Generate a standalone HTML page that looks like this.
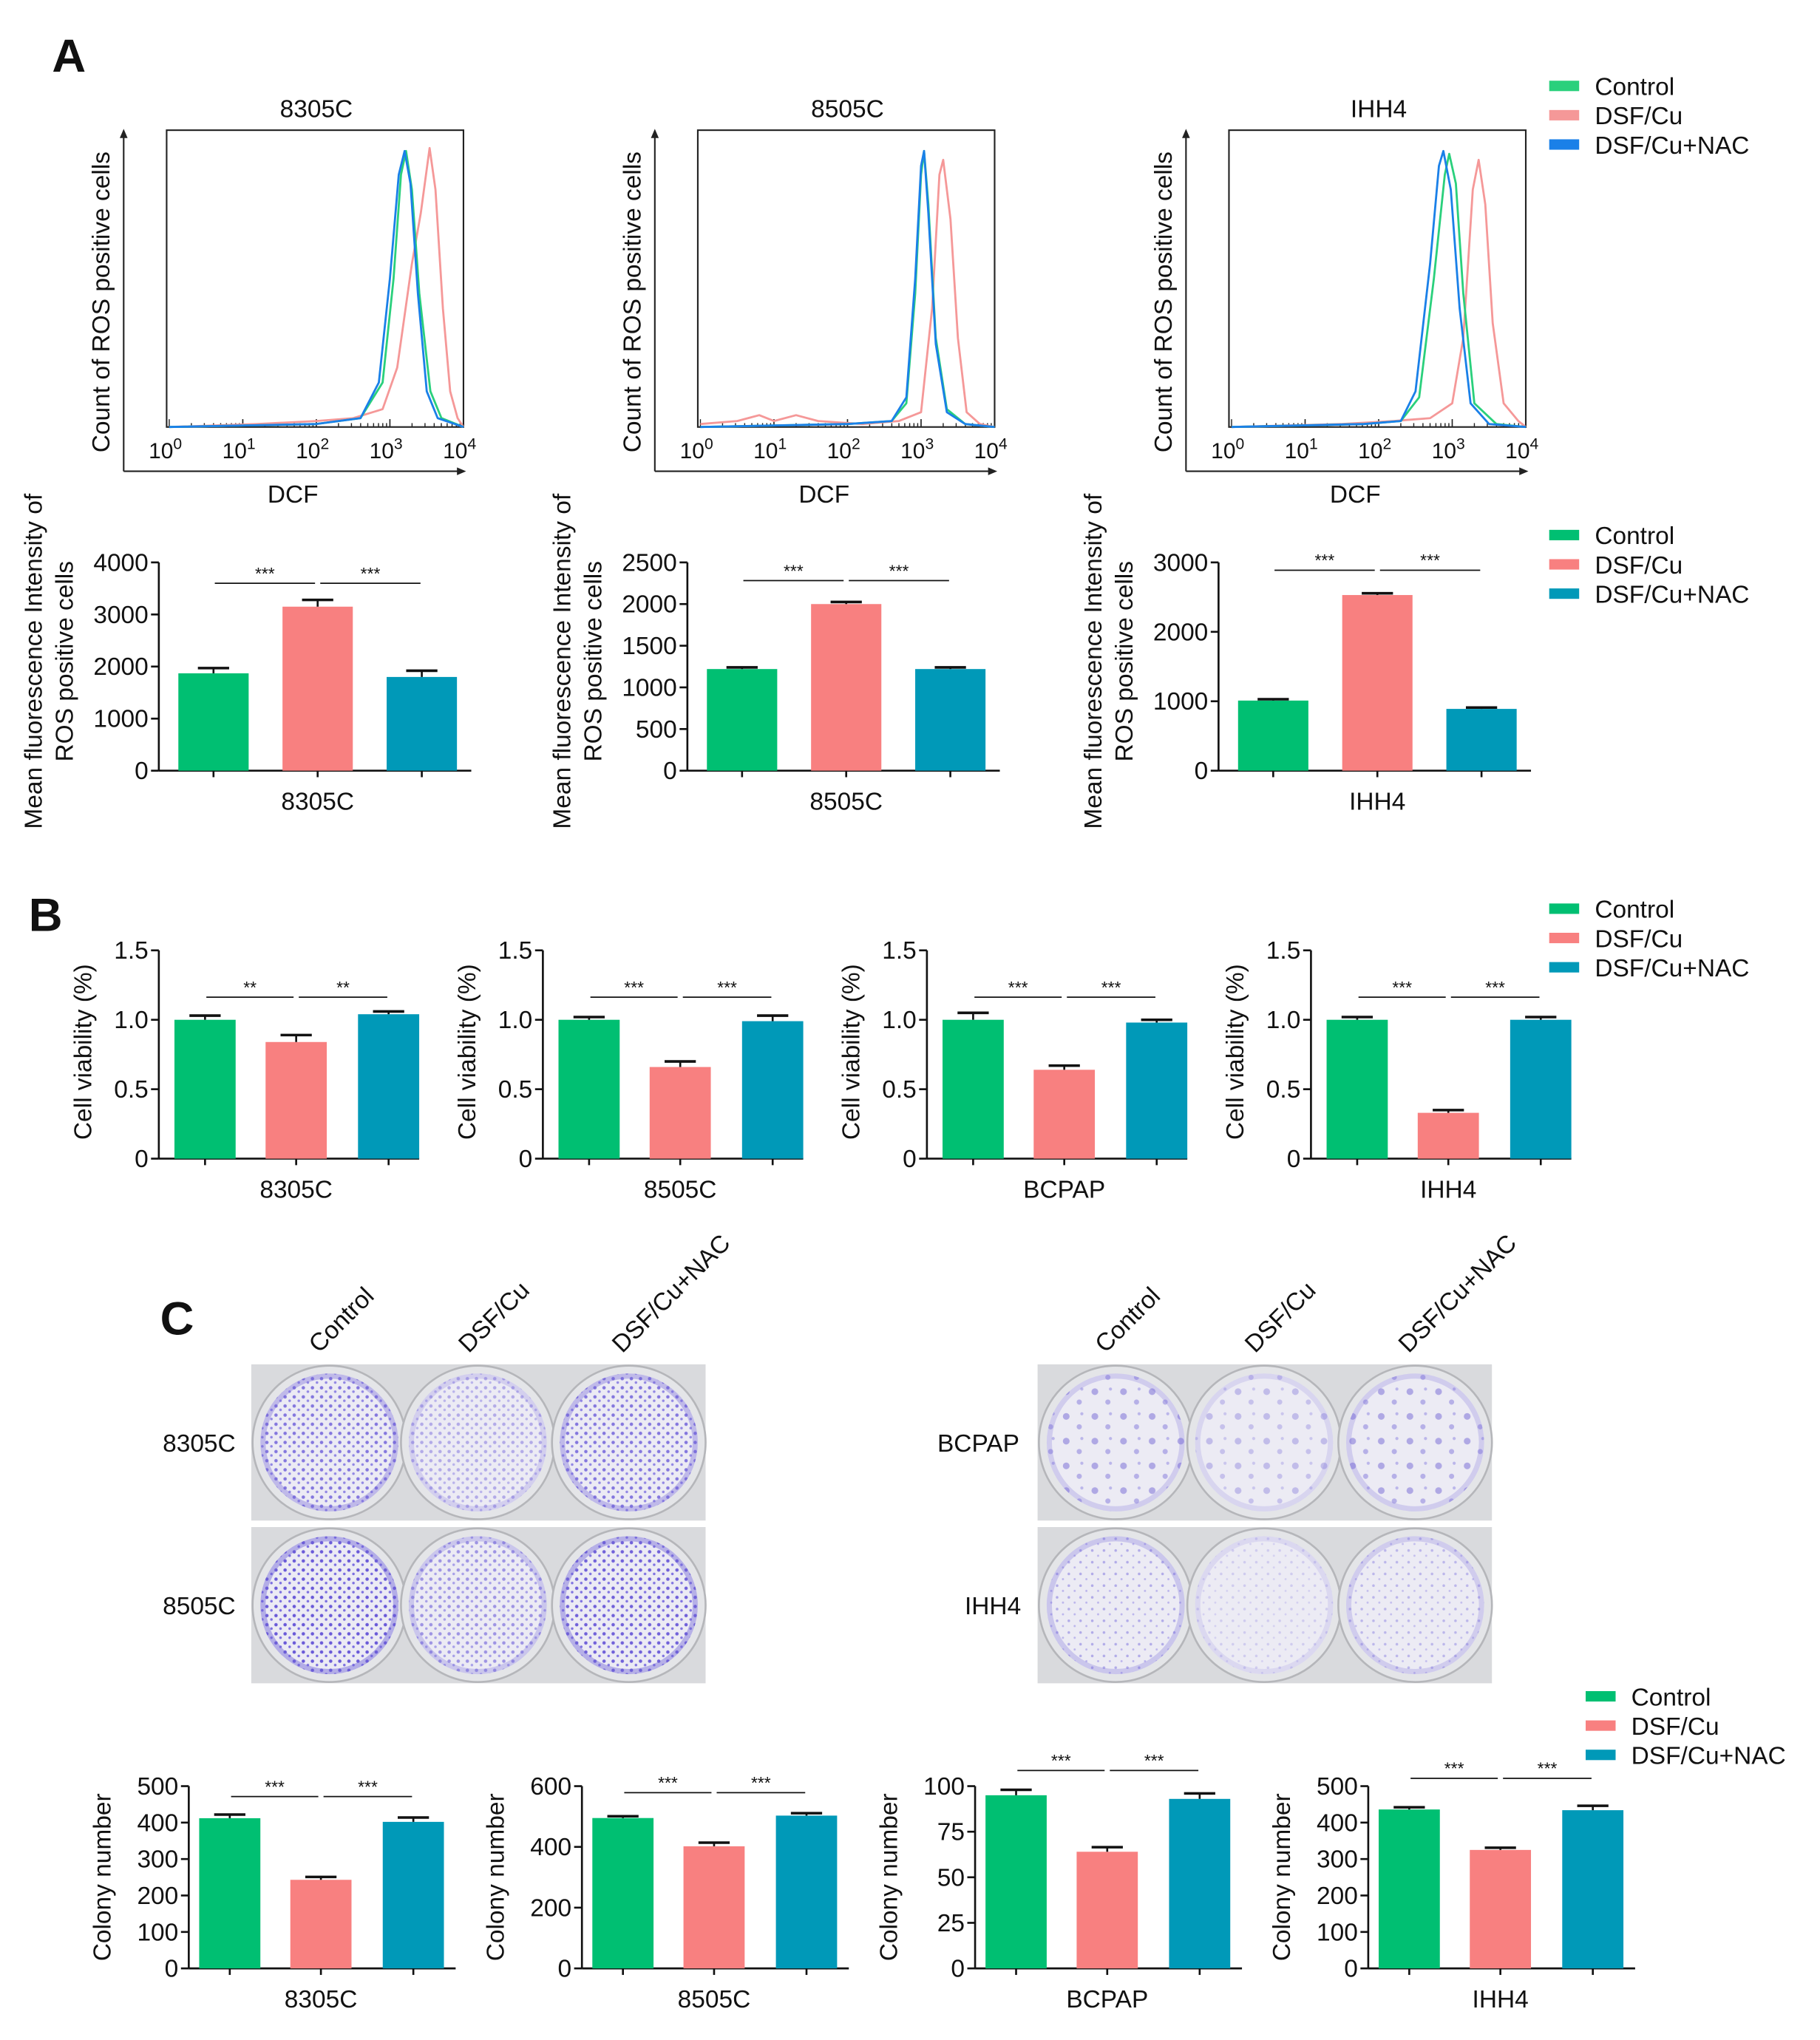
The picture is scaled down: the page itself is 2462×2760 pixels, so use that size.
<!DOCTYPE html>
<html><head><meta charset="utf-8"><style>
html,body{margin:0;padding:0;background:#fff}
svg{display:block}
text{font-family:"Liberation Sans",Arial,sans-serif;fill:#111}
</style></head><body>
<svg id="fig" xmlns="http://www.w3.org/2000/svg" width="2462" height="2760" viewBox="0 0 1398 1567" preserveAspectRatio="none">
<defs>
<pattern id="dots" width="7" height="7" patternUnits="userSpaceOnUse">
<circle cx="2" cy="2" r="1.3" fill="#6a5ad8"/><circle cx="5.5" cy="5" r="1" fill="#7b6ee0"/>
</pattern>
<pattern id="dotsS" width="9" height="9" patternUnits="userSpaceOnUse">
<circle cx="2" cy="3" r="1" fill="#8a80e0"/><circle cx="6.5" cy="7" r="0.8" fill="#9a90e6"/>
</pattern>
<pattern id="big" width="22" height="19" patternUnits="userSpaceOnUse">
<circle cx="5" cy="5" r="2.6" fill="#7264d4"/><circle cx="15" cy="13" r="2" fill="#8074da"/><circle cx="17" cy="3" r="1.2" fill="#8a80e0"/>
</pattern>
</defs>
<g id="root"></g>
</svg>
<script>
// ---------- data ----------
const groups = ["Control","DSF/Cu","DSF/Cu+NAC"];
const flowTitles = ["8305C","8505C","IHH4"];
const flowCtrl = [
 [[0,0],[2,0.01],[2.6,0.03],[2.9,0.15],[3.05,0.5],[3.15,0.85],[3.22,0.93],[3.3,0.8],[3.4,0.45],[3.55,0.12],[3.7,0.03],[4,0]],
 [[0,0],[2,0.01],[2.6,0.02],[2.8,0.08],[2.92,0.45],[3.0,0.85],[3.04,0.93],[3.1,0.75],[3.2,0.3],[3.35,0.06],[3.6,0.01],[4,0]],
 [[0,0],[1.8,0.01],[2.3,0.02],[2.55,0.1],[2.75,0.5],[2.9,0.85],[2.96,0.92],[3.05,0.82],[3.15,0.45],[3.3,0.08],[3.6,0.01],[4,0]]];
const flowDsf = [
 [[0,0],[1.2,0.01],[2,0.02],[2.5,0.03],[2.9,0.06],[3.1,0.2],[3.3,0.55],[3.42,0.72],[3.54,0.94],[3.62,0.8],[3.72,0.4],[3.82,0.12],[3.92,0.03],[4,0]],
 [[0,0.01],[0.5,0.02],[0.8,0.04],[1.0,0.02],[1.3,0.04],[1.6,0.02],[2.2,0.01],[2.7,0.02],[3.0,0.05],[3.15,0.4],[3.25,0.85],[3.3,0.9],[3.4,0.7],[3.5,0.3],[3.62,0.05],[3.8,0.01],[4,0]],
 [[0,0],[1.5,0.01],[2.2,0.02],[2.7,0.03],[3.0,0.08],[3.15,0.3],[3.28,0.8],[3.36,0.9],[3.45,0.75],[3.55,0.35],[3.7,0.08],[3.9,0.02],[4,0]]];
const flowNac = [
 [[0,0],[2,0.01],[2.6,0.03],[2.85,0.15],[3.0,0.5],[3.12,0.85],[3.2,0.93],[3.28,0.82],[3.38,0.45],[3.5,0.12],[3.65,0.03],[4,0]],
 [[0,0],[2,0.01],[2.6,0.02],[2.8,0.1],[2.92,0.5],[3.0,0.88],[3.04,0.93],[3.1,0.72],[3.2,0.28],[3.35,0.05],[3.6,0.01],[4,0]],
 [[0,0],[1.8,0.01],[2.3,0.02],[2.5,0.12],[2.7,0.55],[2.82,0.88],[2.88,0.93],[2.98,0.8],[3.1,0.4],[3.25,0.08],[3.5,0.01],[4,0]]];
const mfiCats = ["8305C","8505C","IHH4"];
const mfiMax = [4000,2500,3000];
const mfiStep = [1000,500,1000];
const mfiVals = [[1870,3150,1800],[1220,2000,1220],[1010,2530,890]];
const mfiErr = [[100,130,120],[20,25,20],[20,25,20]];
const mfiSig = [["***","***"],["***","***"],["***","***"]];
const viaCats = ["8305C","8505C","BCPAP","IHH4"];
const viaTicks = ["0","0.5","1.0","1.5"];
const viaVals = [[1.0,0.84,1.04],[1.0,0.66,0.99],[1.0,0.64,0.98],[1.0,0.33,1.0]];
const viaErr = [[0.03,0.05,0.02],[0.02,0.04,0.04],[0.05,0.03,0.02],[0.02,0.02,0.02]];
const viaSig = [["**","**"],["***","***"],["***","***"],["***","***"]];
const colCats = ["8305C","8505C","BCPAP","IHH4"];
const colMax = [500,600,100,500];
const colStep = [100,200,25,100];
const colVals = [[412,243,402],[495,402,503],[95,64,93],[436,325,434]];
const colErr = [[10,8,12],[6,12,8],[3,2.5,3],[6,6,12]];
const colSig = [["***","***"],["***","***"],["***","***"],["***","***"]];

// ---------- helpers ----------
const NS="http://www.w3.org/2000/svg";
const root=document.getElementById('root');
function mk(tag,attrs,parent,txt){const e=document.createElementNS(NS,tag);for(const k in attrs)e.setAttribute(k,attrs[k]);if(txt!==undefined)e.textContent=txt;(parent||root).appendChild(e);return e;}
const barCols=["#00bf72","#f88080","#0099b8"];
const lineCols=["#2ad07c","#f59898","#1a80e8"];

function legend(x,y,cols){
  const g=mk('g',{});
  
  
  groups.forEach((n,i)=>{
    const r=mk('rect',{x:x,y:y+i*22.5-4,width:23,height:8,fill:cols[i]},g);
    
    
    const t=mk('text',{x:x+35,y:y+i*22.5+7,'font-size':19},g,n);
    
    
  });
}
function label(x,y,s,size){const t=mk('text',{x:x,y:y,'font-size':size,'font-weight':'bold'},root,s);}

// ---------- panel A flow ----------
label(40,55,"A",36);
legend(1190,66,lineCols);
for(let p=0;p<3;p++){
  const off=p*408, bx=128+off, bw=228, by=100, bb=328;
  const g=mk('g',{});
  
  
  mk('rect',{x:bx,y:by,width:bw,height:bb-by,fill:'none',stroke:'#222','stroke-width':1.2},g);
  mk('line',{x1:95+off,y1:362,x2:95+off,y2:102,stroke:'#222','stroke-width':1.2},g);
  mk('path',{d:`M${92+off},106 L${95+off},99 L${98+off},106Z`,fill:'#222'},g);
  mk('line',{x1:95+off,y1:362,x2:354+off,y2:362,stroke:'#222','stroke-width':1.2},g);
  mk('path',{d:`M${351+off},359 L${358+off},362 L${351+off},365Z`,fill:'#222'},g);
  const sx=v=>bx+2+v*56.5, sy=c=>bb-c*228;
  for(let d=0;d<4;d++)for(let k=1;k<=10;k++){const xx=sx(d+Math.log10(k));mk('line',{x1:xx,y1:bb,x2:xx,y2:bb-(k===1||k===10?6:3),stroke:'#222','stroke-width':0.8},g);}
  for(let d=0;d<=4;d++){const t=mk('text',{x:sx(d)-3,y:bb+24,'font-size':17,'text-anchor':'middle'},g,'10');mk('tspan',{dy:-7,'font-size':12},t,String(d));}
  mk('text',{x:bx+115,y:90,'font-size':19,'text-anchor':'middle'},g,flowTitles[p]);
  mk('text',{x:bx+97,y:386,'font-size':19,'text-anchor':'middle'},g,'DCF');
  mk('text',{x:0,y:0,'font-size':19,'text-anchor':'middle',transform:`translate(${84+off},232) rotate(-90)`},g,'Count of ROS positive cells');
  [[flowDsf,1],[flowCtrl,0],[flowNac,2]].forEach(([arr,ci])=>{
    const d=arr[p].map((pt,i)=>(i?'L':'M')+sx(pt[0]).toFixed(1)+','+sy(pt[1]).toFixed(1)).join(' ');
    const pa=mk('path',{d:d,fill:'none',stroke:lineCols[ci],'stroke-width':1.6,'stroke-linejoin':'round'},g);
    
    
  });
}

function barChart(o){
  const g=mk('g',{});
  
  
  const sy=v=>o.y0-(v/o.max)*(o.y0-o.ytop);
  mk('line',{x1:o.ax,y1:o.ytop,x2:o.ax,y2:o.y0,stroke:'#111','stroke-width':1.5},g);
  mk('line',{x1:o.ax,y1:o.y0,x2:o.xend,y2:o.y0,stroke:'#111','stroke-width':1.5},g);
  o.ticks.forEach((tl,i)=>{const v=o.tickVals[i];const y=sy(v);
    mk('line',{x1:o.ax-6,y1:y,x2:o.ax,y2:y,stroke:'#111','stroke-width':1.5},g);
    mk('text',{x:o.ax-8,y:y+6.5,'font-size':19,'text-anchor':'end'},g,tl);});
  o.vals.forEach((v,i)=>{
    const x=o.bx[i], w=o.bw;
    const r=mk('rect',{x:x,y:sy(v),width:w,height:o.y0-sy(v),fill:barCols[i]},g);
    
    
    const ye=sy(v+o.err[i]);
    mk('line',{x1:x+w/2,y1:sy(v),x2:x+w/2,y2:ye,stroke:'#111','stroke-width':1.5},g);
    mk('line',{x1:x+w/2-12,y1:ye,x2:x+w/2+12,y2:ye,stroke:'#111','stroke-width':2},g);
    mk('line',{x1:x+w/2,y1:o.y0,x2:x+w/2,y2:o.y0+5,stroke:'#111','stroke-width':1.5},g);
  });
  const c=o.bx.map(x=>x+o.bw/2);
  [[c[0]+1,c[1]-2],[c[1]+2,c[2]-1]].forEach((s,i)=>{
    mk('line',{x1:s[0],y1:o.sigY,x2:s[1],y2:o.sigY,stroke:'#111','stroke-width':1},g);
    mk('text',{x:(s[0]+s[1])/2,y:o.sigY-3,'font-size':13,'text-anchor':'middle'},g,o.sig[i]);
  });
  mk('text',{x:c[1],y:o.y0+30,'font-size':19,'text-anchor':'middle'},g,o.name);
  o.ylab.forEach((l,i)=>mk('text',{x:0,y:0,'font-size':19,'text-anchor':'middle',transform:`translate(${o.ylx+i*24},${o.ylc}) rotate(-90)`},g,l));
}
function tickArr(max,step){const t=[],v=[];for(let x=0;x<=max+1e-9;x+=step){v.push(x);t.push(String(x));}return [t,v];}

legend(1190,411,barCols);
const mfiAx=[122,528,936], mfiSigY=[448,446,438];
for(let p=0;p<3;p++){const [t,v]=tickArr(mfiMax[p],mfiStep[p]);const a=mfiAx[p];
  barChart({name:mfiCats[p],ax:a,xend:a+240,ytop:432,y0:592,max:mfiMax[p],ticks:t,tickVals:v,vals:mfiVals[p],err:mfiErr[p],sig:mfiSig[p],sigY:mfiSigY[p],
    bx:[a+15,a+95,a+175],bw:54,ylab:["Mean fluorescence Intensity of","ROS positive cells"],ylx:a-90,ylc:508});}

label(22,715,"B",36);
legend(1190,698,barCols);
for(let p=0;p<4;p++){const a=122+p*295;
  barChart({name:viaCats[p],ax:a,xend:a+200,ytop:730,y0:890,max:1.5,ticks:viaTicks,tickVals:[0,0.5,1.0,1.5],vals:viaVals[p],err:viaErr[p],sig:viaSig[p],sigY:766,
    bx:[a+12,a+82,a+153],bw:47,ylab:["Cell viability (%)"],ylx:a-52,ylc:808});}

label(123,1025,"C",36);
[0,604].forEach(off=>{
  [245,360,478].forEach((x,i)=>mk('text',{x:0,y:0,'font-size':19,transform:`translate(${x+off},1040) rotate(-45)`},root,groups[i]));
});
const plateRows=[[193,1048,"8305C",125,[0.8,0.45,0.8],"dots"],[193,1173,"8505C",125,[1,0.6,0.95],"dots"],
 [797,1048,"BCPAP",720,[0.5,0.35,0.5],"big"],[797,1173,"IHH4",741,[0.6,0.3,0.5],"dotsS"]];
plateRows.forEach(([x,y,n,lx,dens,pat])=>{
  const g=mk('g',{});
  
  
  mk('rect',{x:x,y:y,width:349,height:120,fill:'#d9dadd'},g);
  [60,174,290].forEach((cx,i)=>{
    mk('circle',{cx:x+cx,cy:y+60,r:59,fill:'#e4e5e8',stroke:'#b5b6ba','stroke-width':1.5},g);
    mk('circle',{cx:x+cx,cy:y+60,r:53,fill:'#ecebf4'},g);
    mk('circle',{cx:x+cx,cy:y+60,r:53,fill:'url(#'+pat+')',opacity:dens[i]},g);
    mk('circle',{cx:x+cx,cy:y+60,r:51,fill:'none',stroke:'#6f62d6','stroke-width':4,opacity:dens[i]*0.45},g);
  });
  mk('text',{x:lx,y:y+67,'font-size':19},g,n);
});
legend(1218,1303,barCols);
const colSigY=[1380,1377,1360,1366];
for(let p=0;p<4;p++){const [t,v]=tickArr(colMax[p],colStep[p]);const a=145+p*302;
  barChart({name:colCats[p],ax:a,xend:a+205,ytop:1372,y0:1512,max:colMax[p],ticks:t,tickVals:v,vals:colVals[p],err:colErr[p],sig:colSig[p],sigY:colSigY[p],
    bx:[a+8,a+78,a+149],bw:47,ylab:["Colony number"],ylx:a-60,ylc:1442});}
</script>
</body></html>
